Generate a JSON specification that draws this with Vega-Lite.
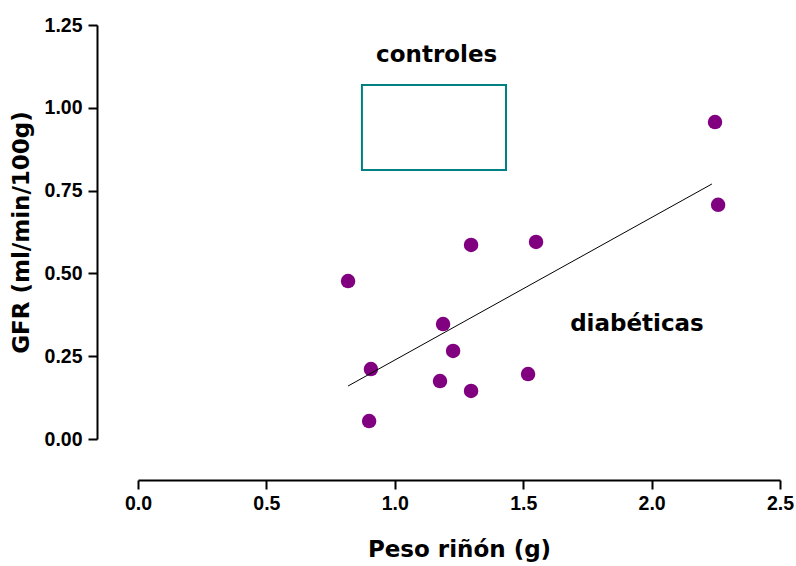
{
  "$schema": "https://vega.github.io/schema/vega-lite/v6.json",
  "width": 642,
  "height": 414,
  "autosize": "none",
  "padding": {"left": 138, "top": 25, "right": 16, "bottom": 127},
  "background": "white",
  "config": {
    "view": {"stroke": null},
    "font": "Liberation Sans",
    "axis": {
      "grid": false,
      "labelFlush": false,
      "domainColor": "black",
      "domainWidth": 2,
      "tickColor": "black",
      "tickWidth": 2,
      "tickSize": 9,
      "labelFont": "Liberation Sans",
      "labelFontWeight": "bold",
      "labelFontSize": 19.5,
      "labelColor": "black",
      "titleFont": "DejaVu Sans",
      "titleFontWeight": "bold",
      "titleFontSize": 23,
      "titleColor": "black"
    }
  },
  "layer": [
    {
      "data": {"values": [
        {"x": 0.818, "y": 0.477},
        {"x": 0.907, "y": 0.211},
        {"x": 0.900, "y": 0.054},
        {"x": 1.188, "y": 0.347},
        {"x": 1.227, "y": 0.266},
        {"x": 1.176, "y": 0.175},
        {"x": 1.297, "y": 0.586},
        {"x": 1.297, "y": 0.145},
        {"x": 1.519, "y": 0.196},
        {"x": 1.550, "y": 0.595},
        {"x": 2.247, "y": 0.957},
        {"x": 2.259, "y": 0.707}
      ]},
      "mark": {"type": "point", "filled": true, "size": 210, "color": "#800080", "opacity": 1},
      "encoding": {
        "x": {"field": "x", "type": "quantitative",
              "scale": {"domain": [0, 2.5], "nice": false, "zero": false},
              "axis": {"title": "Peso riñón (g)", "values": [0, 0.5, 1, 1.5, 2, 2.5], "format": ".1f", "offset": 41, "labelPadding": 5, "titlePadding": 26}},
        "y": {"field": "y", "type": "quantitative",
              "scale": {"domain": [0, 1.25], "nice": false, "zero": false},
              "axis": {"title": "GFR (ml/min/100g)", "values": [0, 0.25, 0.5, 0.75, 1, 1.25], "format": ".2f", "offset": 41, "labelPadding": 6, "titlePadding": 11}}
      }
    },
    {
      "data": {"values": [
        {"x": 0.818, "y": 0.160},
        {"x": 2.235, "y": 0.770}
      ]},
      "mark": {"type": "line", "color": "black", "strokeWidth": 1},
      "encoding": {
        "x": {"field": "x", "type": "quantitative"},
        "y": {"field": "y", "type": "quantitative"}
      }
    },
    {
      "data": {"values": [
        {"x": 0.872, "x2": 1.433, "y": 1.069, "y2": 0.812}
      ]},
      "mark": {"type": "rect", "fill": null, "stroke": "#008080", "strokeWidth": 2},
      "encoding": {
        "x": {"field": "x", "type": "quantitative"},
        "x2": {"field": "x2"},
        "y": {"field": "y", "type": "quantitative"},
        "y2": {"field": "y2"}
      }
    },
    {
      "data": {"values": [
        {"x": 1.163, "y": 1.159, "label": "controles"},
        {"x": 1.943, "y": 0.347, "label": "diabéticas"}
      ]},
      "mark": {"type": "text", "font": "DejaVu Sans", "fontWeight": "bold", "fontSize": 23, "color": "black", "align": "center", "baseline": "middle"},
      "encoding": {
        "x": {"field": "x", "type": "quantitative"},
        "y": {"field": "y", "type": "quantitative"},
        "text": {"field": "label"}
      }
    }
  ]
}
